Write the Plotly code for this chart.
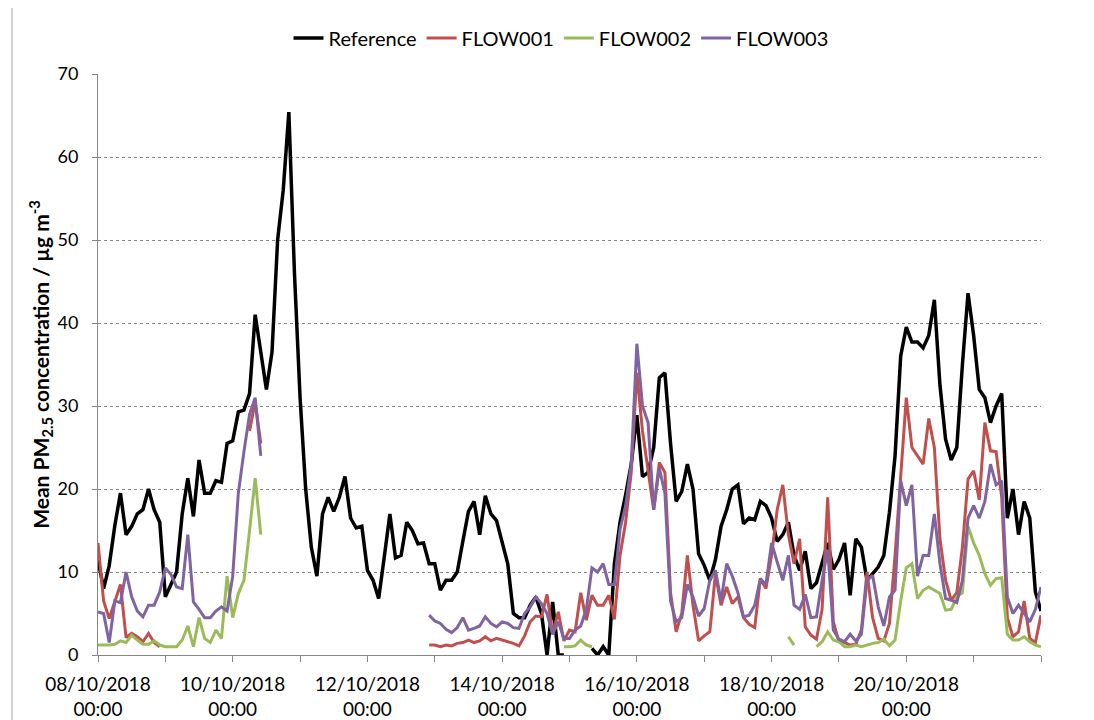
import pandas as pd
import plotly.graph_objects as go

# 2-hourly timestamps, 08/10/2018 00:00 .. 22/10/2018 00:00
times = pd.date_range("2018-10-08 00:00", periods=169, freq="2h")

reference = [11.4, 8.0, 10.8, 15.6, 19.5, 14.5, 15.5, 17.0, 17.5, 20.0,
             17.5, 16.0, 7.0, 8.5, 10.0, 17.0, 21.3, 16.7, 23.5, 19.5,
             19.5, 21.0, 20.8, 25.5, 25.8, 29.3, 29.5, 31.5, 41.0, 36.5,
             32.0, 36.5, 50.0, 56.0, 65.4, 46.0, 31.0, 20.0, 13.0, 9.5,
             17.0, 19.0, 17.3, 19.0, 21.5, 16.5, 15.3, 15.5, 10.2, 9.0,
             6.8, 11.8, 17.0, 11.7, 12.0, 16.0, 15.0, 13.4, 13.5, 11.0,
             11.0, 7.8, 9.0, 9.0, 10.0, 13.7, 17.3, 18.5, 14.5, 19.2,
             17.0, 16.2, 13.5, 11.0, 5.0, 4.5, 4.5, 6.0, 7.0, 5.0,
             0.0, 6.4, 0.0, 0.0, None, None, None, None, 0.8, 0.0,
             1.0, 0.0, 11.0, 16.0, 19.3, 23.0, 28.9, 21.5, 22.0, 25.0,
             33.4, 34.0, 25.5, 18.5, 19.7, 23.0, 20.0, 12.2, 10.8, 9.0,
             11.5, 15.5, 17.5, 20.0, 20.5, 15.8, 16.5, 16.3, 18.5, 18.0,
             16.5, 13.7, 14.5, 16.0, 12.0, 10.2, 12.5, 8.0, 8.7, 11.0,
             13.5, 10.3, 11.5, 13.5, 7.2, 14.0, 13.0, 9.0, 9.8, 10.6,
             12.0, 17.2, 24.0, 36.0, 39.5, 37.7, 37.7, 37.0, 38.5, 42.8,
             32.5, 26.0, 23.5, 25.0, 35.0, 43.6, 38.5, 32.0, 31.0, 28.0,
             30.0, 31.5, 16.5, 20.0, 14.5, 18.5, 16.5, 7.6, 5.3]

flow001 = ([13.5, 6.5, 4.4, 6.5, 8.5, 2.1, 2.6, 2.2, 1.6, 2.6,
            1.5, 1.0] + [None] * 15 + [27.0, 30.5, 25.5] + [None] * 29 +
           [1.2,
            1.2, 1.0, 1.2, 1.1, 1.4, 1.5, 1.8, 1.5, 1.7, 2.2,
            1.7, 2.0, 1.8, 1.6, 1.4, 1.1, 2.3, 4.0, 4.7, 4.6,
            7.3, 2.5, 5.2, 1.7, 3.0, 2.8, 7.5, 4.2, 7.2, 6.0,
            6.0, 7.2, 4.3, 12.0, 16.0, 22.0, 34.0, 27.0, 22.5, 17.5,
            23.2, 22.0, 7.5, 2.8, 5.0, 12.0, 6.0, 1.7, 2.3, 2.8,
            9.8, 6.0, 8.2, 6.2, 7.0, 4.5, 3.7, 3.3, 9.2, 8.0,
            12.0, 17.5, 20.5, 14.5, 11.0, 14.0, 3.4, 2.4, 1.9, 5.5,
            19.0, 4.0, 1.6, 1.5, 1.2, 1.3, 3.0, 10.0, 4.5, 2.0,
            1.7, 3.8, 12.0, 21.5, 31.0, 25.0, 24.0, 23.0, 28.5, 25.0,
            14.0, 9.0, 6.6, 7.5, 13.0, 21.2, 22.2, 18.7, 28.0, 24.6,
            24.5, 19.0, 4.5, 2.2, 2.8, 6.5, 2.0, 1.5, 4.8])

flow002 = ([1.2, 1.2, 1.2, 1.3, 1.7, 1.5, 2.4, 1.8, 1.3, 1.3,
            1.7, 1.2, 1.0, 1.0, 1.0, 1.8, 3.5, 1.0, 4.5, 2.0,
            1.5, 3.0, 2.0, 9.5, 4.5, 7.4, 9.0, 15.0, 21.3, 14.5] +
           [None] * 53 + [1.0, 1.0, 1.1, 1.8, 1.2, 1.0] + [None] * 34 +
           [2.2, 1.2] + [None] * 3 + [1.0, 1.6,
            2.8, 1.8, 1.6, 1.0, 1.0, 1.2, 1.0, 1.2, 1.4, 1.5,
            1.9, 1.1, 1.8, 6.5, 10.5, 11.0, 6.8, 7.8, 8.2, 7.8,
            7.4, 5.4, 5.5, 7.0, 7.5, 15.5, 13.5, 12.0, 9.8, 8.4,
            9.2, 9.3, 2.5, 1.8, 1.8, 2.2, 1.6, 1.2, 1.0])

flow003 = ([5.2, 5.0, 1.5, 6.5, 6.3, 10.0, 7.0, 5.3, 4.6, 6.0,
            6.0, 7.6, 10.5, 9.7, 8.2, 8.0, 14.5, 6.4, 5.5, 4.5,
            4.5, 5.3, 5.8, 5.3, 9.5, 19.5, 24.5, 29.0, 31.0, 24.0] +
           [None] * 29 +
           [4.8,
            4.1, 3.8, 3.1, 2.7, 3.3, 4.5, 3.0, 3.2, 3.5, 4.6,
            3.8, 3.4, 4.0, 3.8, 3.3, 3.2, 5.0, 5.8, 7.0, 6.2,
            5.0, 2.5, 4.0, 2.0, 2.0, 3.0, 3.5, 5.5, 10.5, 10.0,
            11.0, 8.5, 8.5, 15.1, 18.0, 23.0, 37.5, 30.0, 28.0, 17.5,
            22.5, 19.5, 6.5, 4.0, 4.5, 8.5, 7.0, 4.7, 5.6, 9.0,
            10.2, 6.5, 11.0, 9.5, 7.5, 4.6, 4.8, 6.0, 9.2, 8.5,
            13.5, 11.2, 9.0, 12.0, 6.0, 5.5, 7.3, 4.5, 4.6, 9.0,
            12.7, 3.0, 1.9, 1.6, 2.5, 1.7, 2.5, 9.0, 9.6, 5.8,
            3.5, 7.0, 7.8, 21.0, 18.0, 20.5, 9.5, 12.0, 12.0, 17.0,
            11.0, 6.8, 6.6, 6.3, 9.0, 16.5, 18.0, 16.5, 18.5, 23.0,
            20.5, 21.0, 7.0, 5.0, 6.0, 5.0, 4.0, 5.5, 8.2])

tick_days = pd.date_range("2018-10-08", "2018-10-22", freq="D")
tick_labels = ["08/10/2018<br>00:00", "", "10/10/2018<br>00:00", "",
               "12/10/2018<br>00:00", "", "14/10/2018<br>00:00", "",
               "16/10/2018<br>00:00", "", "18/10/2018<br>00:00", "",
               "20/10/2018<br>00:00", "", ""]

series = [("Reference", reference, "#000000", 3.5),
          ("FLOW001", flow001, "#C0504D", 3),
          ("FLOW002", flow002, "#9BBB59", 3),
          ("FLOW003", flow003, "#8064A2", 3)]

FONT = "Lato, 'Open Sans', sans-serif"
fig = go.Figure()
for name, vals, col, w in series:
    fig.add_trace(go.Scatter(x=times, y=vals, name=name, mode="lines",
                             line=dict(color=col, width=w),
                             connectgaps=False))

# page body adds an 8px offset, so the figure is 8px smaller than the window
W, H = 1086, 712
L, R, T, B = 90, 53, 66, 65
pw = W - L - R
ph = H - T - B

fig.update_layout(
    width=W, height=H,
    margin=dict(l=L, r=R, t=T, b=B, autoexpand=False),
    paper_bgcolor="white", plot_bgcolor="white",
    font=dict(family=FONT, size=18, color="#000000"),
    showlegend=True,
    legend=dict(orientation="h", x=(561 - 98) / pw, xanchor="center",
                y=1 + 36 / ph, yanchor="middle", font=dict(size=20),
                bgcolor="rgba(0,0,0,0)", itemwidth=30, tracegroupgap=0),
    xaxis=dict(type="date", range=[tick_days[0], tick_days[-1]],
               tickmode="array", tickvals=tick_days, ticktext=tick_labels,
               showgrid=False, zeroline=False, showline=True,
               linecolor="#868686", linewidth=1, ticks="outside",
               ticklen=6, tickcolor="#868686", tickangle=0, automargin=False,
               ticklabelstandoff=6, tickfont=dict(size=19)),
    yaxis=dict(range=[0, 70], dtick=10, showgrid=True,
               gridcolor="#868686", griddash="dot", gridwidth=1,
               zeroline=False, showline=True, linecolor="#868686",
               linewidth=1, ticks="outside", ticklen=5, tickcolor="#868686",
               ticklabelstandoff=10, tickfont=dict(size=18), automargin=False,
               title=dict(text="<b>Mean PM<sub>2.5</sub> concentration / µg m<sup>-3</sup></b>",
                          font=dict(size=21), standoff=2)),
)

fig.add_shape(type="line", xref="paper", yref="paper",
              x0=(12 - 98) / pw, x1=(12 - 98) / pw, y0=-0.2, y1=1.2,
              line=dict(color="#A6A6A6", width=1))
fig.add_shape(type="line", xref="paper", yref="paper",
              x0=(1091 - 98) / pw, x1=(1091 - 98) / pw, y0=-0.2, y1=1.2,
              line=dict(color="#A6A6A6", width=1))

fig.write_html("out.html")
